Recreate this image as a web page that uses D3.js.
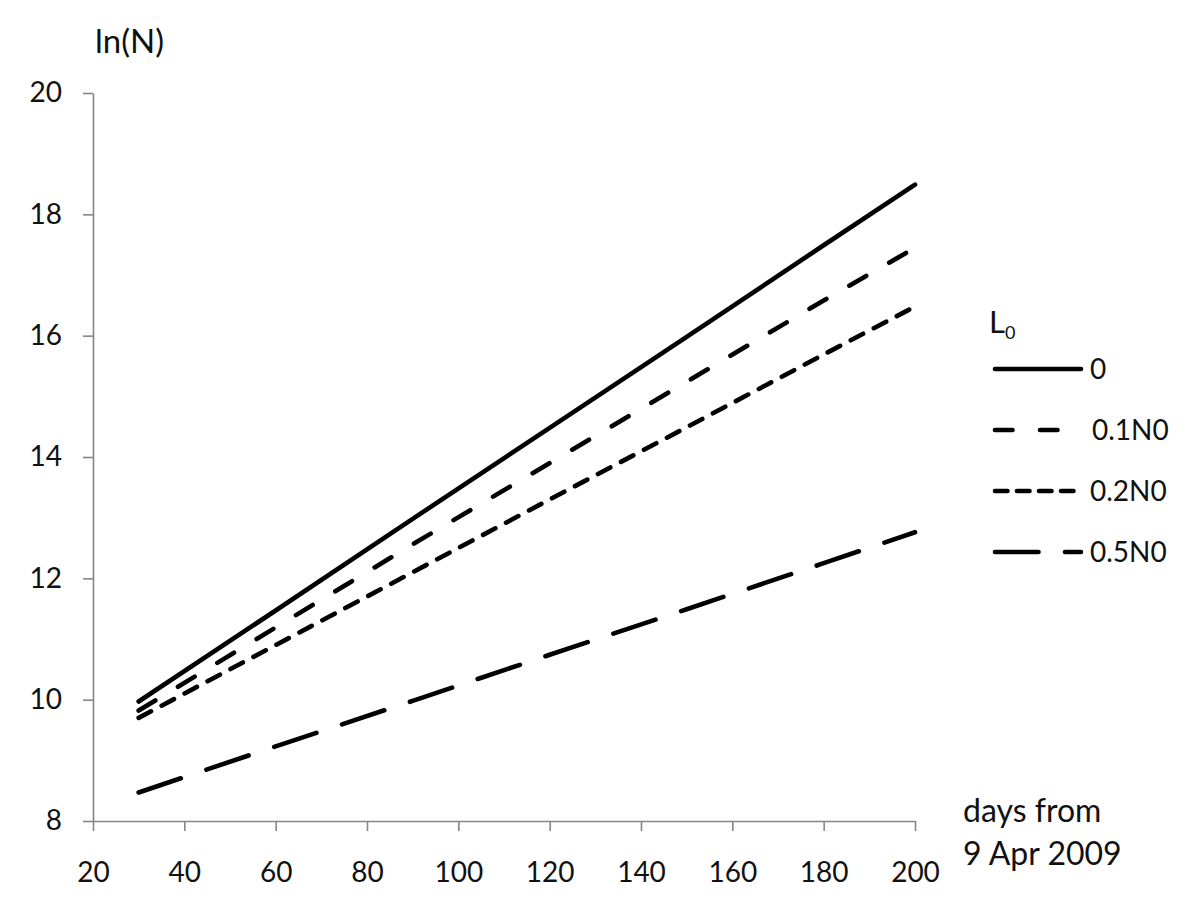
<!DOCTYPE html>
<html>
<head>
<meta charset="utf-8">
<script src="https://cdn.jsdelivr.net/npm/d3@7/dist/d3.min.js"></script>
<style>
  html, body { margin: 0; padding: 0; background: #fff; }
  svg { display: block; font-family: Lato, "Open Sans", sans-serif; }
</style>
</head>
<body>
<svg id="chart" width="1200" height="914"></svg>
<script>
// ---- data ----
const days = [30, 60, 90, 120, 150, 180, 200];
const seriesNames = ["0", "0.1N0", "0.2N0", "0.5N0"];
const valsL0 = [9.97, 11.47, 12.98, 14.48, 15.98, 17.49, 18.49];
const valsL01 = [9.82, 11.19, 12.56, 13.90, 15.24, 16.58, 17.45];
const valsL02 = [9.70, 10.90, 12.10, 13.30, 14.49, 15.69, 16.48];
const valsL05 = [8.47, 9.23, 9.98, 10.74, 11.49, 12.25, 12.76];
const xTicks = [20, 40, 60, 80, 100, 120, 140, 160, 180, 200];
const yTicks = [8, 10, 12, 14, 16, 18, 20];

const seriesValues = [valsL0, valsL01, valsL02, valsL05];
const dashChart = [null, "19.5,26.5", "14,12", "44.5,27"];
const dashLegend = [null, "17.5,27.5", "12.5,9.5", "43.5,26.5"];

const svg = d3.select("#chart");
const x = d3.scaleLinear().domain([20, 200]).range([93, 915]);
const y = d3.scaleLinear().domain([8, 20]).range([821, 93]);

const axisColor = "#868686";
const textColor = "#111";

// y axis
const gy = svg.append("g").attr("transform", "translate(93,0)")
  .call(d3.axisLeft(y).tickValues(yTicks).tickSize(10).tickSizeOuter(0).tickPadding(21).tickFormat(d3.format("d")));
// x axis
const gx = svg.append("g").attr("transform", "translate(0,821)")
  .call(d3.axisBottom(x).tickValues(xTicks).tickSize(10).tickSizeOuter(0).tickPadding(31).tickFormat(d3.format("d")));

[gx, gy].forEach(g => {
  g.select(".domain").attr("stroke", axisColor).attr("stroke-width", 1.6);
  g.selectAll(".tick line").attr("stroke", axisColor).attr("stroke-width", 1.6);
  g.selectAll(".tick text").attr("fill", textColor).style("font-size", "28px").style("font-family", "Lato, sans-serif");
});

// lines
const line = d3.line().x((d, i) => x(days[i])).y(d => y(d));
seriesValues.forEach((vals, k) => {
  const p = svg.append("path")
    .attr("d", line(vals))
    .attr("fill", "none")
    .attr("stroke", "#000")
    .attr("stroke-width", 4.6)
    .attr("stroke-linecap", "round")
    .attr("stroke-linejoin", "round");
  if (dashChart[k]) p.attr("stroke-dasharray", dashChart[k]);
});

// axis titles
svg.append("text").attr("x", 95).attr("y", 53).attr("fill", textColor)
  .style("font-size", "33px").text("ln(N)");
svg.append("text").attr("x", 963).attr("y", 822).attr("fill", textColor)
  .style("font-size", "32px").text("days from");
svg.append("text").attr("x", 963).attr("y", 865).attr("fill", textColor)
  .style("font-size", "32px").text("9 Apr 2009");

// legend
const lt = svg.append("text").attr("x", 989).attr("y", 333).attr("fill", textColor).style("font-size", "31px");
lt.append("tspan").text("L");
lt.append("tspan").attr("dy", 6).style("font-size", "18px").text("0");

const legY = [369, 430, 491, 552];
seriesNames.forEach((name, k) => {
  const p = svg.append("line")
    .attr("x1", 995).attr("x2", 1081)
    .attr("y1", legY[k]).attr("y2", legY[k])
    .attr("stroke", "#000").attr("stroke-width", 4.6)
    .attr("stroke-linecap", "round");
  if (dashLegend[k]) p.attr("stroke-dasharray", dashLegend[k]);
  svg.append("text").attr("x", k === 1 ? 1092 : 1090).attr("y", legY[k] + 10)
    .attr("fill", textColor).style("font-size", "28px").text(name);
});
</script>
</body>
</html>
